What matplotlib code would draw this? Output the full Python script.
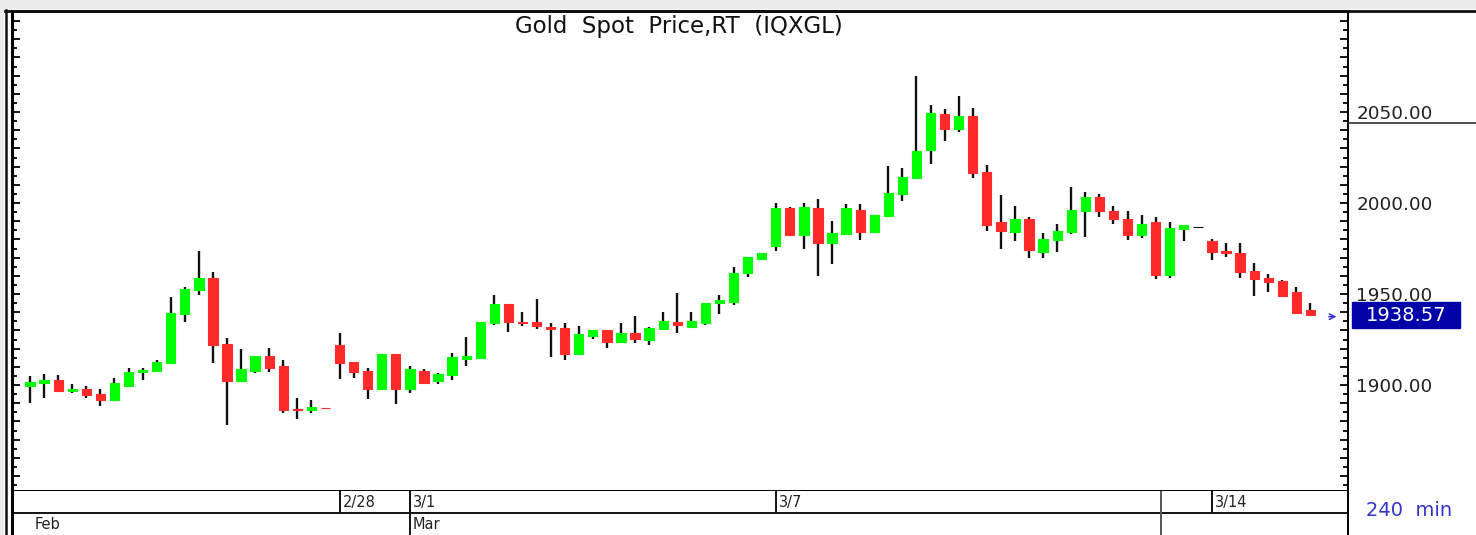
import matplotlib
matplotlib.use('Agg')
import matplotlib.pyplot as plt
import matplotlib.transforms as mtransforms
from matplotlib.lines import Line2D
from matplotlib.patches import Rectangle
from matplotlib.ticker import MultipleLocator, FuncFormatter

# 240 min OHLC bars
opens = [1899.5, 1901.3, 1902.7, 1896.9, 1897.8, 1895.2, 1891.9, 1899.6, 1907.1, 1907.9,
         1911.9, 1939.0, 1952.2, 1958.6, 1922.7, 1902.0, 1907.7, 1916.1, 1910.3, 1887.0,
         1886.3, 1887.6, 1922.0, 1912.8, 1907.9, 1898.0, 1917.0, 1898.0, 1907.9, 1902.2,
         1905.3, 1914.5, 1915.0, 1933.9, 1944.5, 1934.8, 1934.5, 1932.0, 1931.2, 1917.0,
         1927.1, 1930.2, 1923.8, 1928.7, 1924.7, 1930.6, 1934.5, 1932.0, 1933.9, 1944.9,
         1945.8, 1961.4, 1969.1, 1976.4, 1997.1, 1982.4, 1997.1, 1978.2, 1983.0, 1996.2,
         1983.9, 1992.9, 2004.8, 2013.9, 2029.1, 2048.7, 2040.7, 2047.8, 2017.0, 1989.4,
         1983.9, 1991.0, 1973.1, 1979.7, 1983.9, 1995.8, 2003.5, 1995.8, 1991.0, 1982.2,
         1989.4, 1960.3, 1985.7, 1986.6, 1979.3, 1973.8, 1972.7, 1962.8, 1958.6, 1957.0,
         1951.1, 1941.2]
highs = [1905.1, 1906.0, 1905.5, 1900.4, 1899.5, 1897.6, 1903.7, 1909.5, 1909.5, 1913.6,
         1948.5, 1953.7, 1973.6, 1961.9, 1926.0, 1919.6, 1916.1, 1920.2, 1913.6, 1892.7,
         1891.9, 1887.6, 1928.7, 1912.8, 1909.2, 1917.0, 1917.0, 1910.4, 1908.6, 1906.8,
         1917.7, 1926.2, 1934.5, 1949.5, 1944.5, 1940.3, 1947.1, 1934.2, 1934.2, 1932.6,
         1930.2, 1930.2, 1934.2, 1937.9, 1932.0, 1940.3, 1950.4, 1940.3, 1945.2, 1949.5,
         1965.0, 1970.2, 1972.7, 2000.2, 1998.0, 2000.2, 2002.0, 1990.3, 1999.5, 1999.5,
         1993.4, 2020.3, 2019.4, 2069.8, 2053.8, 2051.5, 2058.8, 2052.0, 2021.0, 2004.4,
         1998.5, 1992.5, 1983.7, 1988.5, 2008.6, 2005.9, 2004.9, 1998.5, 1995.8, 1993.4,
         1992.5, 1989.4, 1987.9, 1986.6, 1980.2, 1977.9, 1977.9, 1966.9, 1961.0, 1957.7,
         1953.7, 1945.2]
lows = [1890.3, 1892.9, 1896.3, 1895.4, 1892.9, 1888.6, 1891.2, 1898.7, 1902.7, 1907.3,
        1911.4, 1934.6, 1949.5, 1911.9, 1878.0, 1902.0, 1906.8, 1907.0, 1884.4, 1881.3,
        1884.4, 1887.4, 1903.1, 1903.7, 1892.1, 1898.0, 1889.6, 1895.4, 1901.3, 1900.4,
        1902.7, 1910.4, 1914.5, 1933.0, 1929.0, 1932.4, 1930.6, 1915.2, 1913.7, 1916.5,
        1925.3, 1920.2, 1922.9, 1922.9, 1922.0, 1930.6, 1928.7, 1932.0, 1933.0, 1939.0,
        1944.0, 1959.5, 1969.1, 1973.8, 1982.4, 1974.5, 1959.9, 1966.5, 1982.4, 1979.7,
        1983.9, 1992.1, 2001.3, 2013.0, 2021.4, 2034.1, 2038.8, 2013.9, 1984.8, 1974.7,
        1979.0, 1970.0, 1970.0, 1972.9, 1983.0, 1981.5, 1992.5, 1988.3, 1979.7, 1980.6,
        1958.1, 1959.0, 1979.0, 1986.6, 1968.8, 1970.5, 1958.6, 1948.9, 1951.3, 1948.9,
        1938.8, 1938.0]
closes = [1901.6, 1902.7, 1896.9, 1897.8, 1894.5, 1891.9, 1900.9, 1907.0, 1908.4, 1912.6,
          1939.4, 1952.7, 1958.6, 1922.0, 1902.0, 1908.6, 1916.1, 1909.5, 1886.3, 1886.3,
          1887.7, 1887.4, 1912.3, 1907.3, 1898.0, 1917.0, 1898.0, 1908.6, 1901.3, 1906.0,
          1915.2, 1915.9, 1934.5, 1944.5, 1934.5, 1933.9, 1932.4, 1930.6, 1917.0, 1927.9,
          1930.2, 1923.8, 1928.7, 1925.3, 1931.2, 1935.3, 1933.0, 1935.3, 1945.2, 1946.7,
          1961.4, 1970.2, 1972.7, 1997.1, 1982.4, 1998.0, 1978.2, 1983.7, 1997.1, 1983.9,
          1993.4, 2005.3, 2014.5, 2028.7, 2049.6, 2040.7, 2047.8, 2016.3, 1987.9, 1984.6,
          1991.0, 1974.0, 1980.2, 1984.4, 1996.2, 2003.5, 1995.8, 1991.4, 1982.2, 1988.5,
          1960.3, 1986.1, 1987.9, 1986.6, 1973.1, 1972.5, 1962.3, 1958.2, 1956.6, 1948.9,
          1939.4, 1938.57]

# bar index where each date label starts
day_labels = ['2/28', '3/1', '3/7', '3/14']
day_starts = [22, 27, 53, 84]
month_labels = ['Feb', 'Mar']
month_starts = [0.15, 27]
session_break = 80.35

last_price = closes[-1]
label_prices = [1900, 1950, 2000, 2050]

W, H = 1476, 535
fig = plt.figure(figsize=(W / 100, H / 100), dpi=100)
fig.patch.set_facecolor('white')


def fx(px):
    return px / W


def fy(py):
    return 1 - py / H


ax = fig.add_axes([fx(12), fy(491), fx(1348) - fx(12), fy(11) - fy(491)])
ax.set_xlim(-1.28, 93.67)
ax.set_ylim(1841.8, 2105.5)

up = '#00ff00'
down = '#ff2a2a'
x = list(range(len(opens)))

ax.vlines(x, lows, highs, color='#111111', lw=1.7, zorder=2)
for i in x:
    o, c = opens[i], closes[i]
    if o == c:
        col = '#111111'
    elif c > o:
        col = up
    else:
        col = down
    ax.bar(i, c - o, bottom=o, width=0.66, color=col, edgecolor=col,
           lw=0.8, zorder=3)

# frame and price scale
for side in ['left', 'top']:
    ax.spines[side].set_linewidth(2.2)
for side in ['right', 'bottom']:
    ax.spines[side].set_linewidth(1.4)
ax.set_xticks([])
ax.yaxis.set_major_locator(MultipleLocator(10))
ax.yaxis.set_minor_locator(MultipleLocator(5))
ax.yaxis.set_major_formatter(FuncFormatter(
    lambda v, p: f'{v:.2f}' if round(v) in label_prices else ''))
ax.tick_params(axis='y', which='both', direction='in', left=True, right=True,
               labelleft=False, labelright=True, width=1.4, colors='#111111')
ax.tick_params(axis='y', which='major', length=6, pad=6, labelsize=13.2,
               labelcolor='#222222')
ax.tick_params(axis='y', which='minor', length=3.5)

fig.text(fx(679), fy(26), 'Gold  Spot  Price,RT  (IQXGL)', ha='center',
         va='center', fontsize=16.5, color='#111111')

# last price tag, drawn under the tick labels
tr = mtransforms.blended_transform_factory(ax.transAxes, ax.transData)
box_h = 25.6 / 1.82
ax.add_patch(Rectangle((1.003, last_price - box_h / 2), 0.0808, box_h,
                       transform=tr, facecolor='#0000a8', edgecolor='#0000a8',
                       clip_on=False, zorder=1))
ax.text(1.0434, last_price - 0.6, f'{last_price:.2f}', transform=tr,
        ha='center', va='center', color='white', fontsize=14, clip_on=False,
        zorder=6)
ax.annotate('', xy=(0.9935, last_price - 1), xytext=(0.9835, last_price - 1),
            xycoords=tr, textcoords=tr,
            arrowprops=dict(arrowstyle='->', color='#3333cc', lw=1.1))

# date strip
dax = fig.add_axes([fx(12), 0, fx(1348) - fx(12), fy(491)])
dax.set_xlim(ax.get_xlim())
dax.set_ylim(0, 1)
dax.set_xticks([])
dax.set_yticks([])
dax.spines['top'].set_visible(False)
dax.spines['bottom'].set_visible(False)
dax.spines['left'].set_linewidth(2.2)
dax.spines['right'].set_linewidth(1.4)
dax.axhline(0.5, color='#111111', lw=1.4)
dax.vlines(day_starts, 0.5, 1, color='#111111', lw=1.4)
dax.vlines(month_starts[1:], 0, 1, color='#111111', lw=1.4)
dax.vlines([session_break], 0, 1, color='#555555', lw=1.4)
for lab, s in zip(day_labels, day_starts):
    dax.text(s + 0.2, 0.74, lab, ha='left', va='center', fontsize=10.5,
             color='#222222')
for lab, s in zip(month_labels, month_starts):
    dax.text(s + 0.2, 0.24, lab, ha='left', va='center', fontsize=10.5,
             color='#222222')

fig.text(fx(1366), fy(511), '240  min', ha='left', va='center', fontsize=14,
         color='#3333cc')

# window chrome
fig.add_artist(Rectangle((0, fy(9)), 1, 1 - fy(9), transform=fig.transFigure,
                         facecolor='#ececec', edgecolor='none'))
fig.add_artist(Rectangle((0, 0), fx(4), 1, transform=fig.transFigure,
                         facecolor='#ececec', edgecolor='none'))
fig.add_artist(Line2D([fx(6), fx(6)], [0, fy(10)], transform=fig.transFigure,
                      color='#111111', lw=1.8))
fig.add_artist(Line2D([fx(5), 1], [fy(11), fy(11)], transform=fig.transFigure,
                      color='#111111', lw=2))
fig.add_artist(Line2D([fx(1348), 1], [fy(123), fy(123)], transform=fig.transFigure,
                      color='#333333', lw=1.2))

fig.savefig('out.png', dpi=100)
